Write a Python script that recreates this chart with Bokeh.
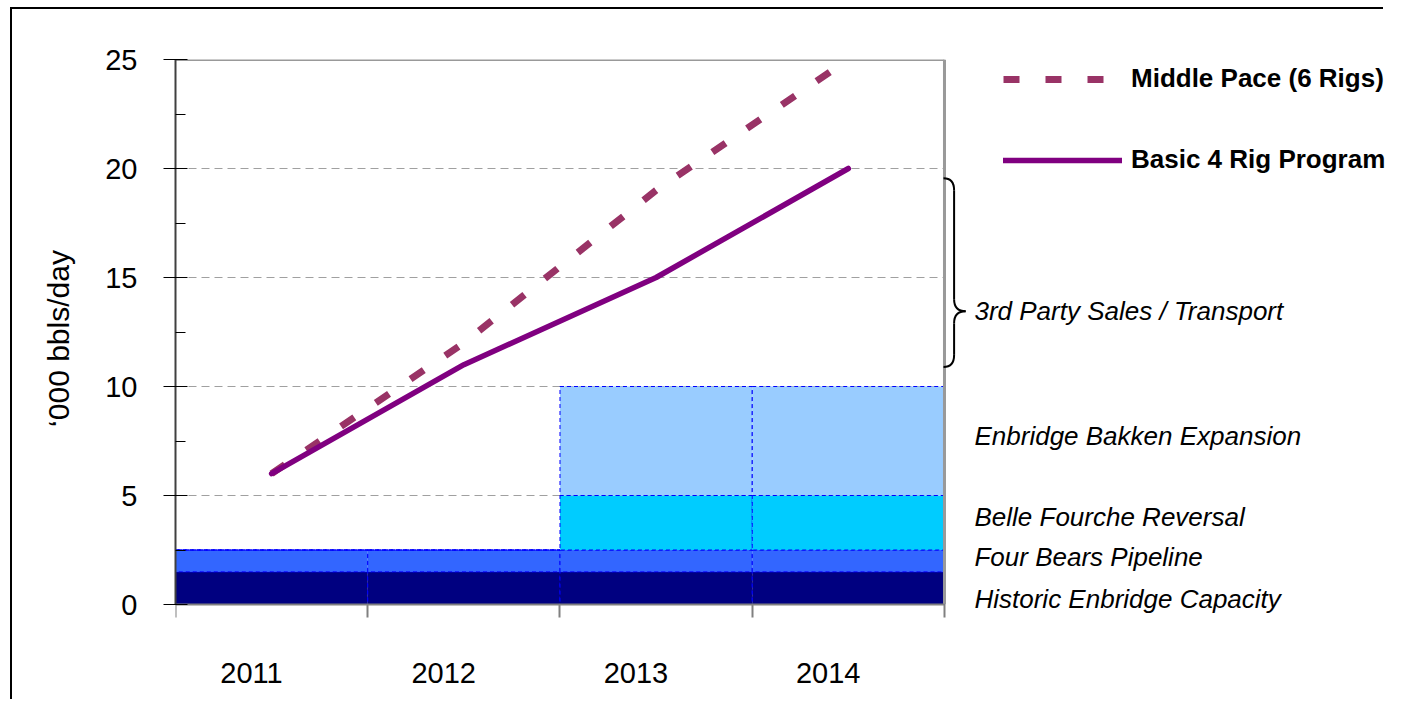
from bokeh.plotting import figure
from bokeh.models import (Range1d, FixedTicker, SingleIntervalTicker, Legend,
                          LegendItem, ColumnDataSource, Label, LinearAxis)
from bokeh.embed import file_html
from bokeh.resources import INLINE

# ---------------- data ----------------
years = ["2011", "2012", "2013", "2014"]
historic = [1.5, 1.5, 1.5, 1.5]
four_bears = [1.0, 1.0, 1.0, 1.0]
belle_fourche = [0.0, 0.0, 2.5, 2.5]
bakken = [0.0, 0.0, 5.0, 5.0]
basic_4_rig = [6, 11, 15, 20]
middle_pace = [6, 12, 19, 25]
y_ticks = [0, 5, 10, 15, 20, 25]
layer_names = ["Historic Enbridge Capacity", "Four Bears Pipeline",
               "Belle Fourche Reversal", "Enbridge Bakken Expansion"]
layer_keys = ["historic", "four_bears", "belle_fourche", "bakken"]
layer_colors = ["#000080", "#3366FF", "#00CCFF", "#99CCFF"]
bracket_label = "3rd Party Sales / Transport"
bracket_range = [10.9, 19.55]

# ---------------- layout ----------------
FONT = "Liberation Sans"
n = len(years)
centers = [i + 0.5 for i in range(n)]
bounds = [float(i) for i in range(n + 1)]
label_shift = 0.105  # year labels sit slightly left of the category centre

p = figure(width=1373, height=692, output_backend="svg", toolbar_location=None,
           x_range=Range1d(0, 6.294), y_range=Range1d(-0.596, y_ticks[-1]),
           min_border_left=163, min_border_right=0, min_border_top=50,
           min_border_bottom=84)
p.styles = {"margin-left": "12px", "margin-top": "9px",
            "box-shadow": "-2px -2px 0px 0px black"}
p.outline_line_color = None
p.background_fill_color = "white"
p.border_fill_color = "white"
p.xgrid.visible = False
p.ygrid.visible = False

# dashed horizontal grid lines limited to the chart area
grid_y = y_ticks[1:-1]
p.segment(x0=[bounds[0]] * len(grid_y), x1=[bounds[-1]] * len(grid_y), y0=grid_y, y1=grid_y,
          line_color="#a0a0a0", line_width=1, line_dash="8 5")

# stacked capacity bars
src = ColumnDataSource(dict(x=centers, historic=historic, four_bears=four_bears,
                            belle_fourche=belle_fourche, bakken=bakken))
p.vbar_stack(layer_keys, x="x", width=1.0, source=src, fill_color=layer_colors,
             line_color="#0000FF", line_width=1, line_dash="4 3")

# plot-area frame (top and right)
p.segment(x0=[bounds[0], bounds[-1]], x1=[bounds[-1], bounds[-1]],
          y0=[y_ticks[-1], y_ticks[0]], y1=[y_ticks[-1], y_ticks[-1]],
          line_color="#999999", line_width=3)

# lines
r_mid = p.line(centers, middle_pace, line_color="#993366", line_width=7,
               line_dash="16 26")
r_basic = p.line(centers, basic_4_rig, line_color="#800080", line_width=5.5,
                 line_cap="round", line_join="round")

# bracket (curly brace)
xe, xs, xt = 3.995, 4.05, 4.11
yt, yb = bracket_range[1], bracket_range[0]
ym = 13.45
r = 0.55
p.quadratic(x0=[xe, xs, xt, xs], y0=[yt, ym + r, ym, yb + r],
            x1=[xs, xt, xs, xe], y1=[yt - r, ym, ym - r, yb],
            cx=[xs, xs, xs, xs], cy=[yt, ym, ym, yb],
            line_color="black", line_width=2)
p.segment(x0=[xs, xs], x1=[xs, xs], y0=[yt - r, ym - r], y1=[ym + r, yb + r],
          line_color="black", line_width=2)

# right-hand labels
label_texts = [bracket_label] + layer_names[::-1]
label_y = [13.45, 7.75, 4.0, 2.2, 0.27]
for t, ly in zip(label_texts, label_y):
    p.add_layout(Label(x=4.156, y=ly, text=t, text_font=FONT, text_font_style="italic",
                       text_font_size="26px", text_baseline="middle", text_align="left",
                       text_color="black"))

# legend
legend = Legend(items=[LegendItem(label="Middle Pace (6 Rigs)", renderers=[r_mid]),
                       LegendItem(label="Basic 4 Rig Program", renderers=[r_basic])],
                location=(828, 442), glyph_width=119, glyph_height=30, label_height=30,
                spacing=50, label_standoff=9, padding=0, margin=0,
                border_line_color=None, background_fill_alpha=0,
                label_text_font=FONT, label_text_font_style="bold",
                label_text_font_size="26px", label_text_color="black")
p.add_layout(legend)

# y axis
ya = p.yaxis[0]
ya.ticker = SingleIntervalTicker(interval=5, num_minor_ticks=2)
ya.bounds = (y_ticks[0], y_ticks[-1])
ya.axis_label = "\u2018000 bbls/day"
ya.axis_label_text_font = FONT
ya.axis_label_text_font_style = "normal"
ya.axis_label_text_font_size = "30px"
ya.axis_label_text_color = "black"
ya.axis_label_standoff = 27
ya.major_label_text_font = FONT
ya.major_label_text_font_size = "29px"
ya.major_label_text_color = "black"
ya.major_label_standoff = 26
ya.axis_line_color = "#404040"
ya.axis_line_width = 2
ya.major_tick_in = 12
ya.major_tick_out = 12
ya.major_tick_line_color = "black"
ya.minor_tick_in = 10
ya.minor_tick_out = 0
ya.minor_tick_line_color = "black"

# x axis line + category boundary ticks, fixed at y = 0
xa = p.xaxis[0]
xa.fixed_location = 0
xa.ticker = FixedTicker(ticks=[], minor_ticks=bounds)
xa.bounds = (bounds[0], bounds[-1])
xa.major_label_standoff = 0
xa.major_tick_in = 0
xa.major_tick_out = 0
xa.minor_tick_in = 0
xa.minor_tick_out = 14
xa.minor_tick_line_color = "#808080"
xa.minor_tick_line_width = 2
xa.axis_line_color = "#808080"
xa.axis_line_width = 2

# year labels on a second (label-only) axis below the frame
label_ticks = [c - label_shift for c in centers]
xl = LinearAxis(ticker=FixedTicker(ticks=label_ticks, minor_ticks=[]),
                axis_line_color=None, major_tick_line_color=None,
                minor_tick_line_color=None, major_tick_in=0, major_tick_out=0,
                minor_tick_in=0, minor_tick_out=0, major_label_standoff=45,
                major_label_text_font=FONT, major_label_text_font_size="29px",
                major_label_text_color="black",
                major_label_overrides={c: y for c, y in zip(label_ticks, years)})
p.add_layout(xl, "below")

open("out.html", "w").write(file_html(p, INLINE))
